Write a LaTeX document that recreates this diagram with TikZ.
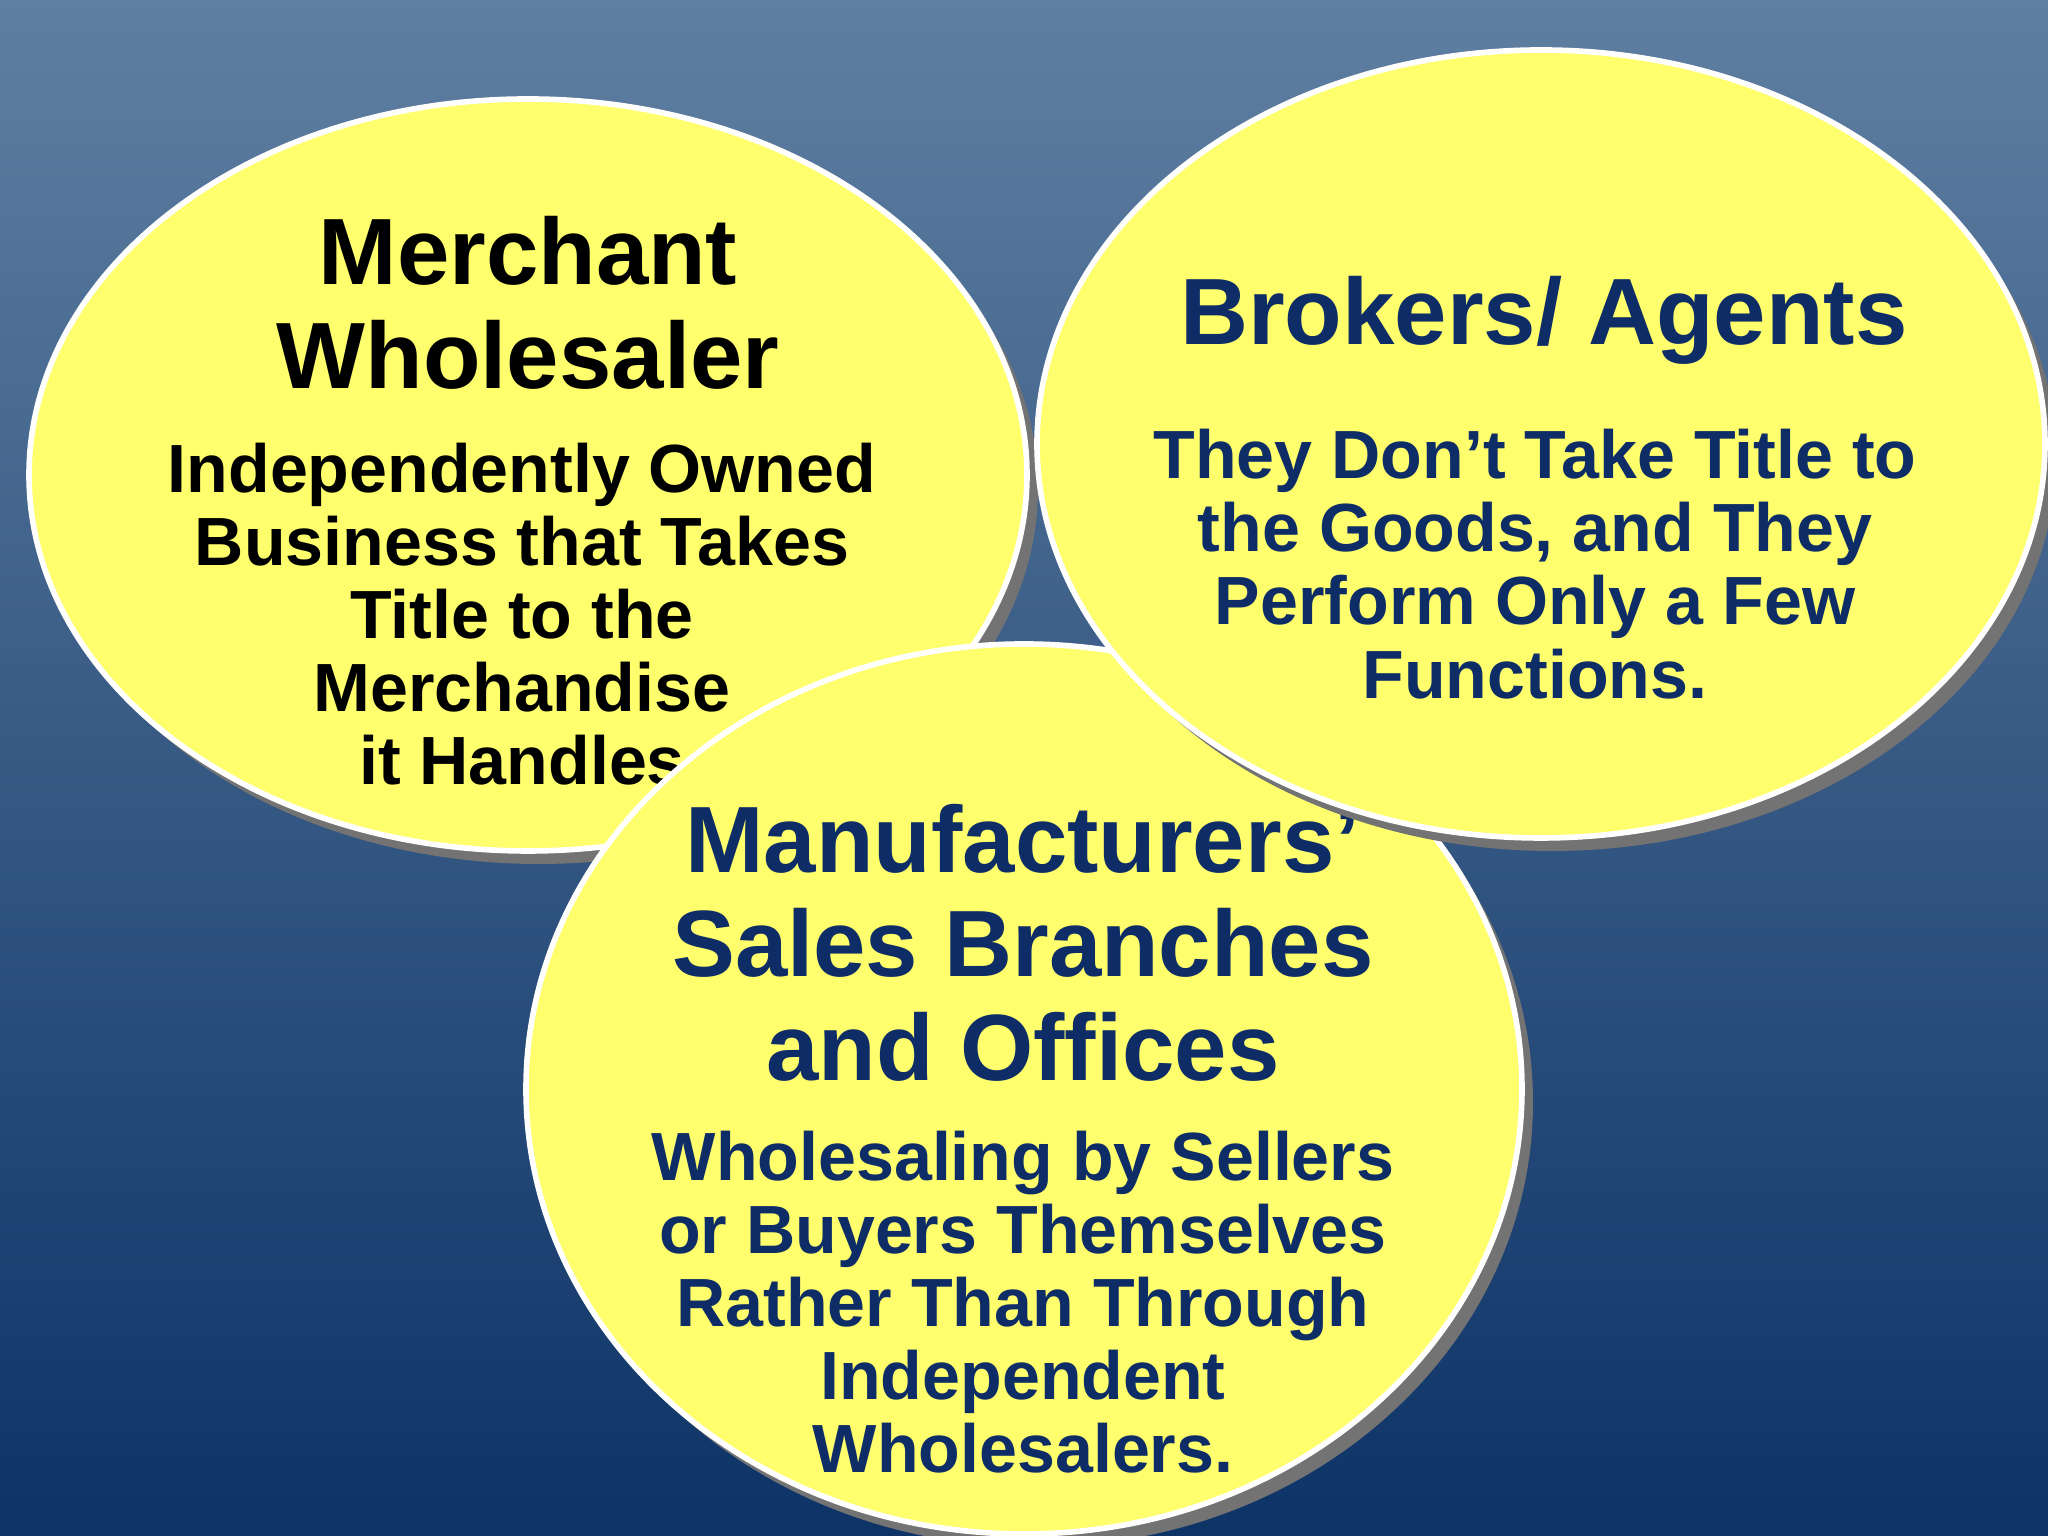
\documentclass[tikz,border=0pt]{standalone}
\usepackage{fontspec}
\setmainfont{Liberation Sans}
\begin{document}
\begin{tikzpicture}
\definecolor{bgtop}{HTML}{5F7FA1}
\definecolor{bgbot}{HTML}{0D3367}
\definecolor{yel}{HTML}{FFFF6E}
\definecolor{navy}{HTML}{0E2D66}
\tikzset{
  blob/.style={fill=yel,draw=white,line width=1.6pt},
  shade/.style={fill=black!55,draw=none},
  ttl/.style={font=\bfseries\fontsize{26.8}{29.5}\selectfont,align=center},
  body/.style={font=\bfseries\fontsize{19.4}{20.8}\selectfont,align=center}
}
\useasboundingbox (0,0) rectangle (20.48,15.36);
\shade[top color=bgtop,bottom color=bgbot] (0,0) rectangle (20.48,15.36);
% Merchant
\fill[shade] (5.39,10.48) ellipse [x radius=4.99,y radius=3.76];
\draw[blob] (5.28,10.61) ellipse [x radius=4.99,y radius=3.76];
\node[ttl] (mt) at (5.28,12.33) {Merchant\\Wholesaler};
\node[body] (mb) at (5.22,9.22) {Independently Owned\\ Business that Takes\\Title to the\\Merchandise\\ it Handles};
% Manufacturers
\fill[shade] (10.35,4.34) ellipse [x radius=4.98,y radius=4.45];
\draw[blob] (10.24,4.47) ellipse [x radius=4.98,y radius=4.45];
\node[ttl,text=navy] (ft) at (10.23,5.93) {Manufacturers'\\Sales Branches\\and Offices};
\node[body,text=navy] (fb) at (10.23,2.34) {Wholesaling by Sellers\\or Buyers Themselves\\ Rather Than Through\\Independent\\Wholesalers.};
% Brokers
\fill[shade] (15.52,10.79) ellipse [x radius=5.04,y radius=3.94];
\draw[blob] (15.41,10.92) ellipse [x radius=5.04,y radius=3.94];
\node[ttl,text=navy] (bt) at (15.44,12.16) {Brokers/ Agents};
\node[body,text=navy] (bb) at (15.35,9.72) {They Don’t Take Title to\\ the Goods, and They\\Perform Only a Few\\Functions.};
\end{tikzpicture}
\end{document}
